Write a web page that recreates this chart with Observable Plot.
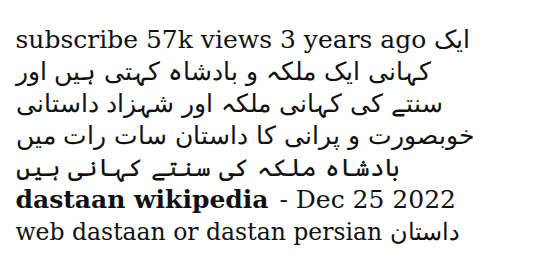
<!DOCTYPE html>
<html>
<head>
<meta charset="utf-8">
<script src="https://cdn.jsdelivr.net/npm/d3@7"></script>
<script src="https://cdn.jsdelivr.net/npm/@observablehq/plot@0.6"></script>
<style>
  html, body { margin: 0; padding: 0; background: #fff; }
</style>
</head>
<body>
<div id="chart"></div>
<script>
// Line numbers and the text on each line
const lineNumbers = [1, 2, 3, 4, 5, 6, 7];
const plainLines = [
  "subscribe 57k views 3 years ago ایک",
  "کہانی ایک ملکہ و بادشاہ کہتی ہیں اور",
  "سنتے کی کہانی ملکہ اور شہزاد داستانی",
  "خوبصورت و پرانی کا داستان سات رات میں",
  "بادشاہ ملکہ کی سنتے کہانی ہیں",
  "",
  "web dastaan or dastan persian داستان"
];
const boldLead = ["", "", "", "", "", "dastaan wikipedia", ""];
const boldTail = ["", "", "", "", "", " - Dec 25 2022", ""];

const serif = "DejaVu Serif";
const fontSize = 25;
const lastLineSize = 23.5;

const rows = lineNumbers.map((n, i) => ({line: n, text: plainLines[i], lead: boldLead[i], tail: boldTail[i]}));

// width of the bold lead, so the date follows it
const ctx = document.createElement("canvas").getContext("2d");
ctx.font = `bold ${fontSize}px "${serif}"`;
const leadWidth = ctx.measureText(boldLead[5]).width;

const common = {y: "line", frameAnchor: "left", dx: 15, textAnchor: "start", lineAnchor: "bottom", fontFamily: serif, fill: "#111"};

const plot = Plot.plot({
  width: 549,
  height: 271,
  margin: 0,
  style: {background: "#fff", color: "#111"},
  y: {axis: null, type: "point", domain: lineNumbers, range: [28, 258]},
  marks: [
    Plot.text(rows.filter(d => d.text && d.line < 7), {...common, text: "text", fontSize}),
    Plot.text(rows.filter(d => d.text && d.line === 7), {...common, text: "text", fontSize: lastLineSize}),
    Plot.text(rows.filter(d => d.lead), {...common, text: "lead", fontWeight: "bold", fontSize}),
    Plot.text(rows.filter(d => d.tail), {...common, text: "tail", dx: 18 + leadWidth, fontSize})
  ]
});
document.getElementById("chart").appendChild(plot);
</script>
</body>
</html>
